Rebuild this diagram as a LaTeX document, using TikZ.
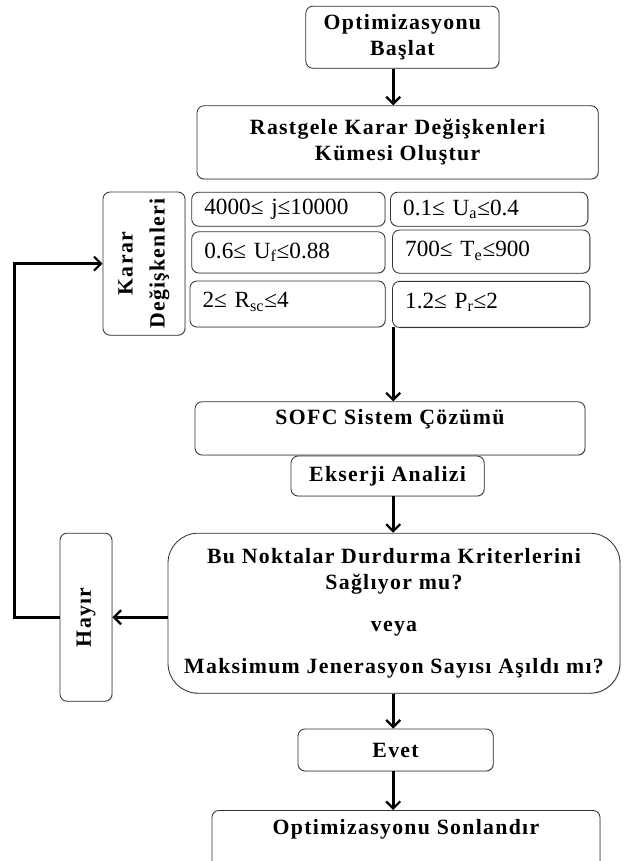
\documentclass[tikz,border=0pt]{standalone}
\usepackage{fontspec}
\setmainfont{Liberation Serif}
\newfontfamily\wideserif[LetterSpace=6]{Liberation Serif}
\usetikzlibrary{arrows.meta,shadows}

\begin{document}
\begin{tikzpicture}[
    box/.style={draw=black!80, line width=0.6pt, rounded corners=5pt,
                fill=white, drop shadow={opacity=0.25, shadow xshift=0.6pt, shadow yshift=-0.6pt},
                align=center, inner sep=2pt},
    title/.style={box, font=\wideserif\fontsize{15.5}{18.5}\selectfont\bfseries},
    range/.style={box, font=\fontsize{16.5}{18}\selectfont, text width=#1,
                  align=left, inner xsep=9pt},
    side/.style={title, rotate=90},
    arr/.style={-{Straight Barb[length=5pt,width=10pt,line width=1.6pt]},
                line width=2pt, black},
]

% page frame
\clip (0,0) rectangle (15.625,-21.525);
\coordinate (axis) at (9.83,0);

% --- start ---
\node[title, minimum width=4.83cm, minimum height=1.55cm]
    (start) at (10.06,-0.93) {Optimizasyonu\\Başlat};

\node[title, minimum width=10.03cm, minimum height=1.83cm]
    (rastgele) at (9.94,-3.56) {Rastgele Karar Değişkenleri\\Kümesi Oluştur};

% --- decision variables ---
\node[range=4.2cm, minimum height=0.85cm]
    (jrange) at (7.21,-5.23) {4000≤ j≤10000};
\node[range=4.3cm, minimum height=0.85cm]
    (uarange) at (12.23,-5.23) {0.1≤ U\textsubscript{a}≤0.4};
\node[range=4.2cm, minimum height=1.03cm]
    (ufrange) at (7.21,-6.31) {0.6≤ U\textsubscript{f}≤0.88};
\node[range=4.3cm, minimum height=1.08cm, text depth=0.12cm]
    (terange) at (12.28,-6.29) {700≤ T\textsubscript{e}≤900};
\node[range=4.25cm, minimum height=1.15cm, text depth=0.2cm]
    (rscrange) at (7.19,-7.6) {2≤ R\textsubscript{sc}≤4};
\node[range=4.3cm, minimum height=1.15cm, text depth=0.2cm]
    (prrange) at (12.28,-7.61) {1.2≤ P\textsubscript{r}≤2};

\node[side, minimum width=3.58cm, minimum height=2.05cm]
    (karar) at (3.6,-6.59) {Karar\\[0.15cm]Değişkenleri};

% --- solution ---
\node[title, minimum width=9.75cm, minimum height=1.33cm, text depth=0.55cm]
    (sofc) at (9.75,-10.71) {SOFC Sistem Çözümü};
\node[title, minimum width=4.83cm, minimum height=1.0cm]
    (ekserji) at (9.69,-11.9) {Ekserji Analizi};

% --- stop check ---
\node[title, rounded corners=0.75cm, minimum width=11.3cm, minimum height=4.0cm]
    (kontrol) at (9.85,-15.33)
    {Bu Noktalar Durdurma Kriterlerini\\Sağlıyor mu?\\[0.4cm]
     veya\\[0.4cm]Maksimum Jenerasyon Sayısı Aşıldı mı?};

\node[side, minimum width=4.2cm, minimum height=1.3cm]
    (hayir) at (2.15,-15.43) {Hayır};

\node[title, minimum width=4.88cm, minimum height=1.05cm]
    (evet) at (9.89,-18.75) {Evet};

\node[title, anchor=north, minimum width=9.7cm, minimum height=1.6cm, text depth=0.75cm]
    (bitir) at (10.15,-20.25) {Optimizasyonu Sonlandır};

% --- arrows ---
\draw[arr] (start.south -| axis) -- (rastgele.north -| axis);
\draw[arr] (rscrange.south east -| axis) -- (sofc.north -| axis);
\draw[arr] (ekserji.south -| axis) -- (kontrol.north -| axis);
\draw[arr] (kontrol.south -| axis) -- (evet.north -| axis);
\draw[arr] (evet.south -| axis) -- (bitir.north -| axis);
\draw[arr] (kontrol.west |- hayir) -- (hayir.south);
\draw[arr] (hayir.north) -- ++(-1.12,0) |- (karar.north);

\end{tikzpicture}
\end{document}
